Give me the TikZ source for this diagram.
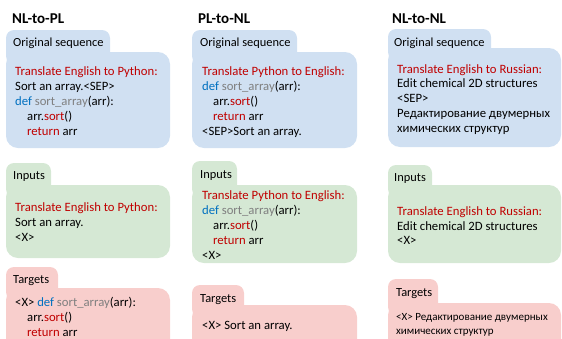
\documentclass[tikz,border=0pt]{standalone}
\usepackage{fontspec}
\setmainfont{Carlito}
\definecolor{bluebg}{HTML}{D0E0F2}
\definecolor{greenbg}{HTML}{D5E8D4}
\definecolor{pinkbg}{HTML}{F8CECC}
\definecolor{kwred}{HTML}{C00000}
\definecolor{kwblue}{HTML}{0070C0}
\definecolor{kwgray}{HTML}{7F7F7F}
\newcommand{\cred}[1]{\textcolor{kwred}{#1}}
\newcommand{\cblue}[1]{\textcolor{kwblue}{#1}}
\newcommand{\cgray}[1]{\textcolor{kwgray}{#1}}
\begin{document}
\begin{tikzpicture}[x=1pt,y=-1pt,
  tabshape/.style={rounded corners=8pt},
  bodyshape/.style={rounded corners=12pt},
  tx/.style={anchor=base west,inner sep=0pt,font=\fontsize{12.7}{15}\selectfont},
  lbl/.style={anchor=base west,inner sep=0pt,font=\fontsize{12.4}{15}\selectfont},
  txs/.style={anchor=base west,inner sep=0pt,font=\fontsize{11}{13}\selectfont},
  ttl/.style={anchor=base west,inner sep=0pt,font=\fontsize{15}{17}\selectfont\bfseries}]
\useasboundingbox (0,0) rectangle (562,338);
\clip (0,0) rectangle (562,338);

% ---------- shapes column 1
\fill[bluebg,tabshape] (6,30) rectangle (110,64);
\fill[bluebg,bodyshape] (6,52) rectangle (170,148);
\fill[greenbg,tabshape] (6,163) rectangle (51,197);
\fill[greenbg,bodyshape] (6,185) rectangle (170,258);
\fill[pinkbg,tabshape] (6,267) rectangle (58,300);
\fill[pinkbg,bodyshape] (6,288) rectangle (170,360);

% ---------- shapes column 2
\fill[bluebg,tabshape] (192,30) rectangle (297,64);
\fill[bluebg,bodyshape] (192,52) rectangle (357,148);
\fill[greenbg,tabshape] (192,161) rectangle (237,197);
\fill[greenbg,bodyshape] (192,185) rectangle (357,263);
\fill[pinkbg,tabshape] (192,285) rectangle (244,317);
\fill[pinkbg,bodyshape] (192,305) rectangle (357,370);

% ---------- shapes column 3
\fill[bluebg,tabshape] (388,29) rectangle (491,60);
\fill[bluebg,bodyshape] (388,48) rectangle (561,147);
\fill[greenbg,tabshape] (388,165) rectangle (432,197);
\fill[greenbg,bodyshape] (388,185) rectangle (561,263);
\fill[pinkbg,tabshape] (388,279) rectangle (438,315);
\fill[pinkbg,bodyshape] (388,303) rectangle (561,370);

% ---------- titles
\node[ttl] (t1) at (12,23) {NL-to-PL};
\node[ttl] (t2) at (198,23) {PL-to-NL};
\node[ttl] (t3) at (392,23) {NL-to-NL};

% ---------- column 1 text
\node[lbl] (l1o) at (13,46) {Original sequence};
\node[tx] (c1o1) at (15,75) {\cred{Translate English to Python:}};
\node[tx] (c1o2) at (15,90) {Sort an array.<SEP>};
\node[tx] (c1o3) at (15,105) {\cblue{def} \cgray{sort\_array}(arr):};
\node[tx] (c1o4) at (27,120) {arr.\cred{sort}()};
\node[tx] (c1o5) at (27,135) {\cred{return} arr};

\node[lbl] (l1i) at (13,179) {Inputs};
\node[tx] (c1i1) at (15,211) {\cred{Translate English to Python:}};
\node[tx] (c1i2) at (15,226) {Sort an array.};
\node[tx] (c1i3) at (15,241) {<X>};

\node[lbl] (l1t) at (13,283) {Targets};
\node[tx] (c1t1) at (15,306) {<X> \cblue{def} \cgray{sort\_array}(arr):};
\node[tx] (c1t2) at (27,321) {arr.\cred{sort}()};
\node[tx] (c1t3) at (27,336) {\cred{return} arr};

% ---------- column 2 text
\node[lbl] (l2o) at (200,46) {Original sequence};
\node[tx] (c2o1) at (202,75) {\cred{Translate Python to English:}};
\node[tx] (c2o2) at (202,90) {\cblue{def} \cgray{sort\_array}(arr):};
\node[tx] (c2o3) at (213,105) {arr.\cred{sort}()};
\node[tx] (c2o4) at (213,120) {\cred{return} arr};
\node[tx] (c2o5) at (202,135) {<SEP>Sort an array.};

\node[lbl] (l2i) at (200,178) {Inputs};
\node[tx] (c2i1) at (202,199) {\cred{Translate Python to English:}};
\node[tx] (c2i2) at (202,214) {\cblue{def} \cgray{sort\_array}(arr):};
\node[tx] (c2i3) at (213,229) {arr.\cred{sort}()};
\node[tx] (c2i4) at (213,244) {\cred{return} arr};
\node[tx] (c2i5) at (202,259) {<X>};

\node[lbl] (l2t) at (200,302) {Targets};
\node[tx] (c2t1) at (202,329) {<X> Sort an array.};

% ---------- column 3 text
\node[lbl] (l3o) at (394,46) {Original sequence};
\node[tx] (c3o1) at (397,73) {\cred{Translate English to Russian:}};
\node[tx] (c3o2) at (397,87) {Edit chemical 2D structures};
\node[tx] (c3o3) at (397,102) {<SEP>};
\node[tx] (c3o4) at (397,117) {Редактирование двумерных};
\node[tx] (c3o5) at (397,132) {химических структур};

\node[lbl] (l3i) at (394,181) {Inputs};
\node[tx] (c3i1) at (397,215) {\cred{Translate English to Russian:}};
\node[tx] (c3i2) at (397,230) {Edit chemical 2D structures};
\node[tx] (c3i3) at (397,244) {<X>};

\node[lbl] (l3t) at (396,296) {Targets};
\node[txs] (c3t1) at (396,320) {<X> Редактирование двумерных};
\node[txs] (c3t2) at (396,334) {химических структур};
\end{tikzpicture}
\end{document}
